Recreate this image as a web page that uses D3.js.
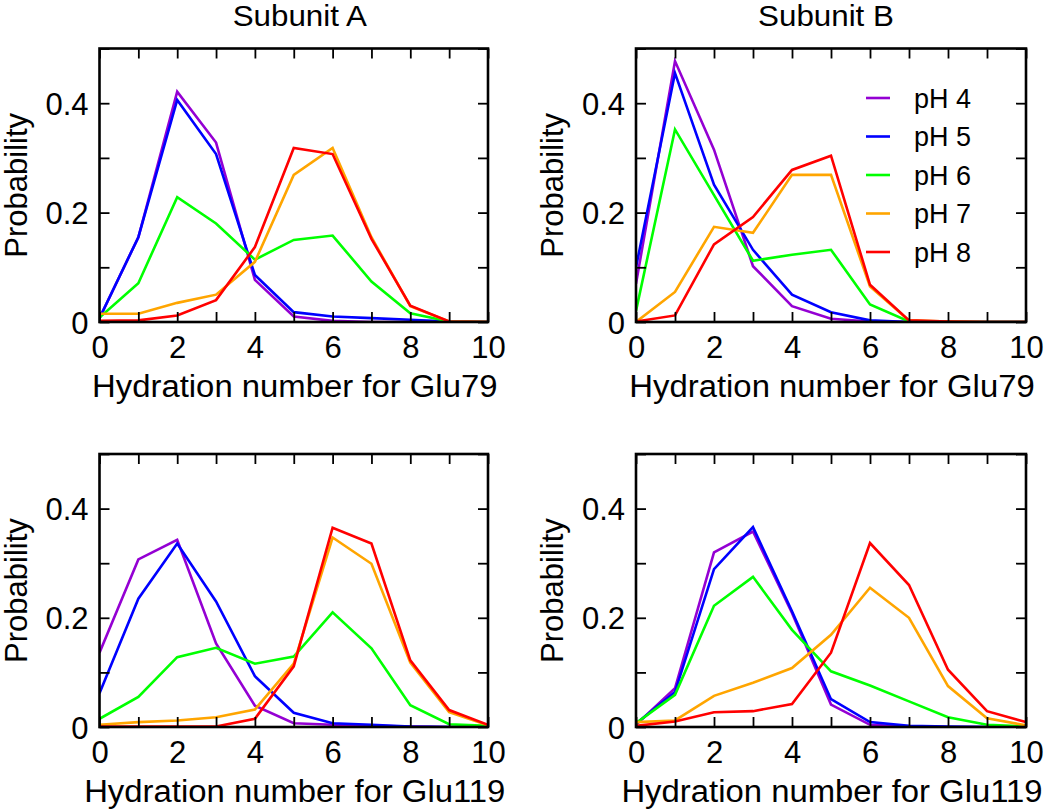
<!DOCTYPE html>
<html>
<head>
<meta charset="utf-8">
<script src="https://cdn.jsdelivr.net/npm/d3@7"></script>
<style>
  html, body { margin: 0; padding: 0; background: #fff; }
  svg { display: block; font-family: "Liberation Sans", Arial, Helvetica, sans-serif; }
</style>
</head>
<body>
<svg id="chart" width="1050" height="810"></svg>
<script>
// ---------- data ----------
const hydration = [0, 1, 2, 3, 4, 5, 6, 7, 8, 9, 10];
const seriesNames = ["pH 4", "pH 5", "pH 6", "pH 7", "pH 8"];
const seriesColors = ["#9400D3", "#0000FF", "#00FF00", "#FFA500", "#FF0000"];
const xTicks = [0, 1, 2, 3, 4, 5, 6, 7, 8, 9, 10];
const xTickLabels = ["0", "", "2", "", "4", "", "6", "", "8", "", "10"];
const yTicks = [0, 0.1, 0.2, 0.3, 0.4, 0.5];
const yTickLabels = ["0", "", "0.2", "", "0.4", ""];
const columnTitles = ["Subunit A", "Subunit B"];
const xLabels = ["Hydration number for Glu79", "Hydration number for Glu119"];
const yLabel = "Probability";

// Glu79, subunit A
const glu79A_pH4 = [0.007, 0.155, 0.421, 0.328, 0.077, 0.010, 0.002, 0.000, 0.000, 0.000, 0.000];
const glu79A_pH5 = [0.007, 0.155, 0.406, 0.307, 0.086, 0.018, 0.010, 0.007, 0.004, 0.001, 0.000];
const glu79A_pH6 = [0.008, 0.071, 0.228, 0.180, 0.114, 0.150, 0.158, 0.074, 0.016, 0.001, 0.000];
const glu79A_pH7 = [0.015, 0.015, 0.035, 0.050, 0.110, 0.269, 0.318, 0.155, 0.029, 0.001, 0.000];
const glu79A_pH8 = [0.002, 0.003, 0.012, 0.040, 0.137, 0.318, 0.307, 0.152, 0.030, 0.001, 0.000];
// Glu79, subunit B
const glu79B_pH4 = [0.070, 0.477, 0.315, 0.102, 0.029, 0.006, 0.001, 0.000, 0.000, 0.000, 0.000];
const glu79B_pH5 = [0.100, 0.455, 0.251, 0.132, 0.050, 0.018, 0.003, 0.000, 0.000, 0.000, 0.000];
const glu79B_pH6 = [0.020, 0.352, 0.232, 0.112, 0.123, 0.132, 0.032, 0.001, 0.000, 0.000, 0.000];
const glu79B_pH7 = [0.000, 0.055, 0.174, 0.163, 0.269, 0.269, 0.065, 0.003, 0.001, 0.000, 0.000];
const glu79B_pH8 = [0.001, 0.012, 0.142, 0.192, 0.278, 0.304, 0.068, 0.003, 0.001, 0.000, 0.000];
// Glu119, subunit A
const glu119A_pH4 = [0.136, 0.307, 0.343, 0.153, 0.039, 0.007, 0.004, 0.002, 0.001, 0.000, 0.000];
const glu119A_pH5 = [0.062, 0.235, 0.336, 0.230, 0.093, 0.026, 0.007, 0.004, 0.001, 0.000, 0.000];
const glu119A_pH6 = [0.015, 0.055, 0.128, 0.145, 0.116, 0.129, 0.210, 0.144, 0.040, 0.005, 0.002];
const glu119A_pH7 = [0.004, 0.009, 0.012, 0.018, 0.032, 0.116, 0.347, 0.299, 0.118, 0.027, 0.003];
const glu119A_pH8 = [0.001, 0.001, 0.001, 0.001, 0.015, 0.111, 0.365, 0.336, 0.122, 0.031, 0.004];
// Glu119, subunit B
const glu119B_pH4 = [0.004, 0.071, 0.320, 0.358, 0.209, 0.041, 0.004, 0.001, 0.000, 0.000, 0.000];
const glu119B_pH5 = [0.006, 0.064, 0.289, 0.366, 0.212, 0.051, 0.009, 0.002, 0.001, 0.000, 0.000];
const glu119B_pH6 = [0.007, 0.059, 0.222, 0.275, 0.178, 0.102, 0.076, 0.047, 0.018, 0.004, 0.001];
const glu119B_pH7 = [0.009, 0.012, 0.057, 0.081, 0.108, 0.169, 0.255, 0.200, 0.075, 0.016, 0.003];
const glu119B_pH8 = [0.002, 0.010, 0.027, 0.029, 0.042, 0.136, 0.337, 0.260, 0.105, 0.029, 0.009];

const panelSeries = [
  [glu79A_pH4, glu79A_pH5, glu79A_pH6, glu79A_pH7, glu79A_pH8],
  [glu79B_pH4, glu79B_pH5, glu79B_pH6, glu79B_pH7, glu79B_pH8],
  [glu119A_pH4, glu119A_pH5, glu119A_pH6, glu119A_pH7, glu119A_pH8],
  [glu119B_pH4, glu119B_pH5, glu119B_pH6, glu119B_pH7, glu119B_pH8]
];

// ---------- layout ----------
const colX = [[99.5, 488], [636, 1026]];
const rowY = [[48.5, 322], [454, 727]];
const tickLen = 10;
const svg = d3.select("#chart");

const panels = [
  {row: 0, col: 0}, {row: 0, col: 1}, {row: 1, col: 0}, {row: 1, col: 1}
];

panels.forEach((p, i) => {
  const [x0, x1] = colX[p.col];
  const [y0, y1] = rowY[p.row];
  const x = d3.scaleLinear().domain([0, 10]).range([x0, x1]);
  const y = d3.scaleLinear().domain([0, 0.5]).range([y1, y0]);
  const g = svg.append("g");

  // clip
  const clipId = "clip" + i;
  svg.append("clipPath").attr("id", clipId).append("rect")
    .attr("x", x0).attr("y", y0 - 2).attr("width", x1 - x0).attr("height", y1 - y0 + 2);

  // lines
  const line = d3.line().x((d, j) => x(hydration[j])).y(d => y(d));
  const lg = g.append("g").attr("clip-path", `url(#${clipId})`);
  panelSeries[i].forEach((vals, s) => {
    lg.append("path").datum(vals)
      .attr("d", line)
      .attr("fill", "none")
      .attr("stroke", seriesColors[s])
      .attr("stroke-width", 2.6)
      .attr("stroke-linejoin", "miter");
  });

  // axes with inward ticks
  const fmtX = (d) => xTickLabels[xTicks.indexOf(d)];
  const fmtY = (d) => yTickLabels[yTicks.findIndex(t => Math.abs(t - d) < 1e-9)];

  const axB = g.append("g").attr("transform", `translate(0,${y1})`)
    .call(d3.axisBottom(x).tickValues(xTicks).tickSizeInner(-tickLen).tickSizeOuter(0).tickPadding(14).tickFormat(fmtX));
  const axT = g.append("g").attr("transform", `translate(0,${y0})`)
    .call(d3.axisTop(x).tickValues(xTicks).tickSizeInner(-tickLen).tickSizeOuter(0).tickFormat(""));
  const axL = g.append("g").attr("transform", `translate(${x0},0)`)
    .call(d3.axisLeft(y).tickValues(yTicks).tickSizeInner(-tickLen).tickSizeOuter(0).tickPadding(11).tickFormat(fmtY));
  const axR = g.append("g").attr("transform", `translate(${x1},0)`)
    .call(d3.axisRight(y).tickValues(yTicks).tickSizeInner(-tickLen).tickSizeOuter(0).tickFormat(""));

  [axB, axT, axL, axR].forEach(a => {
    a.select(".domain").remove();
    a.selectAll(".tick line").attr("stroke", "#000").attr("stroke-width", 1.8);
    a.selectAll(".tick text").attr("fill", "#000").attr("font-size", 31)
      .attr("font-family", "'Liberation Sans', Arial, sans-serif");
  });
  axB.selectAll(".tick text").attr("dy", "0.71em");
  axL.selectAll(".tick text").attr("dy", "0.36em");

  // frame
  g.append("rect").attr("x", x0).attr("y", y0).attr("width", x1 - x0).attr("height", y1 - y0)
    .attr("fill", "none").attr("stroke", "#000").attr("stroke-width", 2.6);

  // x label
  g.append("text").attr("transform", `translate(${(x0 + x1) / 2 + 1},${y1 + 75}) scale(1.06,1)`)
    .attr("text-anchor", "middle").attr("font-size", 31).attr("fill", "#000")
    .text(xLabels[p.row]);

  // y label
  g.append("text").attr("transform", `translate(${x0 - 73},${(y0 + y1) / 2}) rotate(-90)`)
    .attr("text-anchor", "middle").attr("font-size", 31).attr("fill", "#000")
    .text(yLabel);

  // title
  if (p.row === 0) {
    g.append("text")
      .attr("transform", `translate(${(x0 + x1) / 2 + (p.col === 0 ? 6 : -5)},26) scale(1.08,1)`)
      .attr("text-anchor", "middle").attr("font-size", 29).attr("fill", "#000")
      .text(columnTitles[p.col]);
  }

  // legend in top-right panel
  if (i === 1) {
    const leg = g.append("g");
    seriesNames.forEach((name, s) => {
      const ly = 98 + s * 38.5;
      leg.append("line").attr("x1", 866).attr("x2", 890).attr("y1", ly).attr("y2", ly)
        .attr("stroke", seriesColors[s]).attr("stroke-width", 2.6);
      leg.append("text").attr("x", 914).attr("y", ly).attr("dy", "0.36em")
        .attr("font-size", 27).attr("fill", "#000").text(name);
    });
  }
});
</script>
</body>
</html>
